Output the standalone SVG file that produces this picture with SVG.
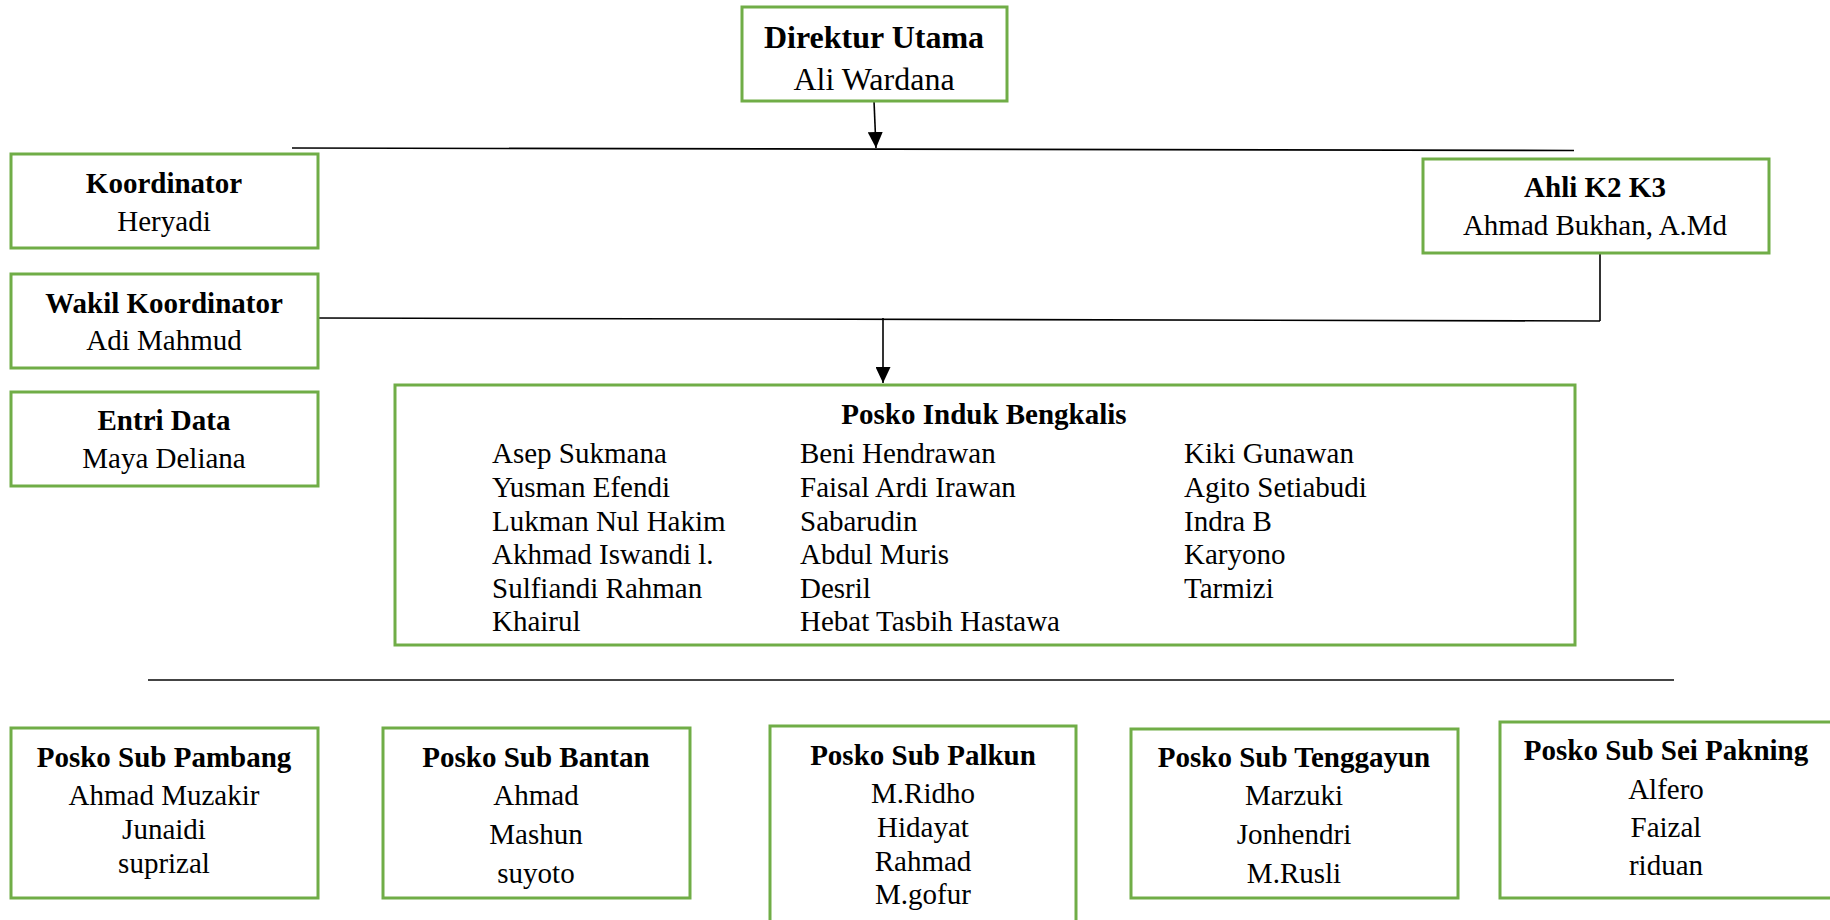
<svg xmlns="http://www.w3.org/2000/svg" width="1830" height="920" viewBox="0 0 1830 920">
<style>
.box{fill:#fff;stroke:#70AD47;stroke-width:3}
.t{font-family:"Liberation Serif","Times New Roman",serif;font-size:29px;fill:#000}
.b{font-weight:bold}
.c{text-anchor:middle}
.big{font-size:32px}
.ln{stroke:#000;stroke-width:1.6;fill:none}
</style>
<defs>
<marker id="ar" markerWidth="16" markerHeight="15" refX="16" refY="7.5" orient="auto" markerUnits="userSpaceOnUse" viewBox="0 0 16 15">
<path d="M0,0 L16,7.5 L0,15 Z" fill="#000"/>
</marker>
</defs>
<g id="connectors">
<line class="ln" x1="874" y1="101" x2="876" y2="148" marker-end="url(#ar)"/>
<line class="ln" x1="292" y1="148" x2="1574" y2="150.5"/>
<line class="ln" x1="318" y1="318" x2="1600" y2="321"/>
<line class="ln" x1="1600" y1="253" x2="1600" y2="321"/>
<line class="ln" x1="883" y1="318" x2="883" y2="383" marker-end="url(#ar)"/>
<line x1="148" y1="680" x2="1674" y2="680" stroke="#444" stroke-width="1.8"/>
</g>
<g id="direktur">
<rect class="box" x="742" y="7" width="265" height="94"/>
<text class="t b c big" x="874" y="48">Direktur Utama</text>
<text class="t c big" x="874" y="90">Ali Wardana</text>
</g>
<g id="koordinator">
<rect class="box" x="11" y="154" width="307" height="94"/>
<text class="t b c" x="164" y="193">Koordinator</text>
<text class="t c" x="164" y="231">Heryadi</text>
</g>
<g id="wakil">
<rect class="box" x="11" y="274" width="307" height="94"/>
<text class="t b c" x="164" y="313">Wakil Koordinator</text>
<text class="t c" x="164" y="350">Adi Mahmud</text>
</g>
<g id="entri">
<rect class="box" x="11" y="392" width="307" height="94"/>
<text class="t b c" x="164" y="430">Entri Data</text>
<text class="t c" x="164" y="468">Maya Deliana</text>
</g>
<g id="ahli">
<rect class="box" x="1423" y="159" width="346" height="94"/>
<text class="t b c" x="1595" y="197">Ahli K2 K3</text>
<text class="t c" x="1595" y="235">Ahmad Bukhan, A.Md</text>
</g>
<g id="posko-induk">
<rect class="box" x="395" y="385" width="1180" height="260"/>
<text class="t b c" x="984" y="424">Posko Induk Bengkalis</text>
<text class="t" x="492" y="463">Asep Sukmana</text>
<text class="t" x="492" y="497">Yusman Efendi</text>
<text class="t" x="492" y="531">Lukman Nul Hakim</text>
<text class="t" x="492" y="564">Akhmad Iswandi l.</text>
<text class="t" x="492" y="598">Sulfiandi Rahman</text>
<text class="t" x="492" y="631">Khairul</text>
<text class="t" x="800" y="463">Beni Hendrawan</text>
<text class="t" x="800" y="497">Faisal Ardi Irawan</text>
<text class="t" x="800" y="531">Sabarudin</text>
<text class="t" x="800" y="564">Abdul Muris</text>
<text class="t" x="800" y="598">Desril</text>
<text class="t" x="800" y="631">Hebat Tasbih Hastawa</text>
<text class="t" x="1184" y="463">Kiki Gunawan</text>
<text class="t" x="1184" y="497">Agito Setiabudi</text>
<text class="t" x="1184" y="531">Indra B</text>
<text class="t" x="1184" y="564">Karyono</text>
<text class="t" x="1184" y="598">Tarmizi</text>
</g>
<g id="sub-pambang">
<rect class="box" x="11" y="728" width="307" height="170"/>
<text class="t b c" x="164" y="767">Posko Sub Pambang</text>
<text class="t c" x="164" y="805">Ahmad Muzakir</text>
<text class="t c" x="164" y="839">Junaidi</text>
<text class="t c" x="164" y="873">suprizal</text>
</g>
<g id="sub-bantan">
<rect class="box" x="383" y="728" width="307" height="170"/>
<text class="t b c" x="536" y="767">Posko Sub Bantan</text>
<text class="t c" x="536" y="805">Ahmad</text>
<text class="t c" x="536" y="844">Mashun</text>
<text class="t c" x="536" y="883">suyoto</text>
</g>
<g id="sub-palkun">
<rect class="box" x="770" y="726" width="306" height="200"/>
<text class="t b c" x="923" y="765">Posko Sub Palkun</text>
<text class="t c" x="923" y="803">M.Ridho</text>
<text class="t c" x="923" y="837">Hidayat</text>
<text class="t c" x="923" y="871">Rahmad</text>
<text class="t c" x="923" y="904">M.gofur</text>
</g>
<g id="sub-tenggayun">
<rect class="box" x="1131" y="729" width="327" height="169"/>
<text class="t b c" x="1294" y="767">Posko Sub Tenggayun</text>
<text class="t c" x="1294" y="805">Marzuki</text>
<text class="t c" x="1294" y="844">Jonhendri</text>
<text class="t c" x="1294" y="883">M.Rusli</text>
</g>
<g id="sub-sei-pakning">
<rect class="box" x="1500" y="722" width="340" height="176"/>
<text class="t b c" x="1666" y="760">Posko Sub Sei Pakning</text>
<text class="t c" x="1666" y="799">Alfero</text>
<text class="t c" x="1666" y="837">Faizal</text>
<text class="t c" x="1666" y="875">riduan</text>
</g>
</svg>
